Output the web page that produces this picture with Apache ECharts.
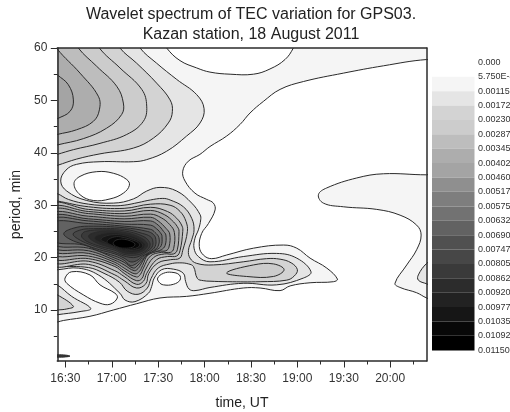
<!DOCTYPE html>
<html>
<head>
<meta charset="utf-8">
<style>html,body{margin:0;padding:0;background:#fff}#c{width:510px;height:412px}</style>
<script src="https://cdn.jsdelivr.net/npm/echarts@6/dist/echarts.min.js"></script>
</head>
<body>
<div id="c"></div>
<script>
// time axis values are minutes after 16:30 UT; second value of each point is period, min
const timeTicks = [0, 30, 60, 90, 120, 150, 180, 210];
const timeLabels = ['16:30','17:00','17:30','18:00','18:30','19:00','19:30','20:00'];
const timeMinor = [15, 45, 75, 105, 135, 165, 195, 225];
const periodTicks = [10, 20, 30, 40, 50, 60];
const periodMinor = [5, 15, 25, 35, 45, 55];
const levelValues = [0,0.000575,0.00115,0.00172,0.0023,0.00287,0.00345,0.00402,0.0046,0.00517,0.00575,0.00632,0.0069,0.00747,0.00805,0.00862,0.0092,0.00977,0.01035,0.01092,0.0115];
const levelLabels = ['0.000','5.750E-4','0.00115','0.00172','0.00230','0.00287','0.00345','0.00402','0.00460','0.00517','0.00575','0.00632','0.00690','0.00747','0.00805','0.00862','0.00920','0.00977','0.01035','0.01092','0.01150'];
const levelColors = ['#ffffff','#f5f5f5','#e5e5e5','#d3d3d3','#cccccc','#bdbdbd','#adadad','#a4a4a4','#8f8f8f','#7e7e7e','#727272','#626262','#505050','#474747','#3a3a3a','#2c2c2c','#222222','#161616','#080808','#000000'];

const L1 = [[240,57.4],[233.6,57.8],[205.6,56.6],[179.7,55.2],[153.9,53.6],[138.8,52.1],[128,49.8],[119.4,47.6],[112.9,45.4],[104.3,43.2],[93.5,41.2],[87,39.7],[79.5,38.4],[75.9,36.5],[77.4,34.6],[83.8,32.3],[91.4,31.1],[95.7,30.4],[96.8,29.1],[92.5,26.5],[88.1,24.6],[86.6,22.1],[89.2,20.5],[94.6,19.8],[104.3,20.5],[121.6,21.8],[141,22.4],[149.6,21.8],[158.2,19.9],[169,18],[175.9,15.9],[173.3,15.4],[158.2,15.2],[145.3,14.6],[138.8,13.7],[125.9,14.2],[115,14.2],[93.5,13.2],[78.4,12.6],[61.2,12.3],[46.1,11.2],[31,10],[15.9,8.8],[-1.3,8],[-5.2,7.7],[-9,7.5],[-9,63],[240,63]];
const holeTop = [[62,62],[65.5,60],[74.1,57.6],[84.9,56.2],[93.5,55.4],[106.5,55],[121.6,55],[132.3,56],[142,57.8],[147.4,60],[150,62]];
const holeOval = [[5.6,34.1],[9.5,35.5],[20.3,36.4],[31,36.1],[39.7,34.9],[41.4,33.8],[37.5,32.3],[28.9,31.2],[18.1,30.9],[9.5,32]];
const holeLobe = [[-0.2,16.1],[4.1,17.3],[15.9,16.7],[22.4,14.8],[32.1,13.2],[33.6,12.3],[28.9,11.1],[22.4,11.3],[11.6,12.9],[0.9,15.1]];
const holeSmall = [[59.7,16.1],[63.4,17],[68.8,17.2],[73.7,16.7],[74.1,15.7],[69.8,14.9],[63.4,14.8],[60.6,15.3]];
const islandL1 = [[240,36],[233.6,35.8],[205.6,36],[188.4,35.2],[169,33.3],[163.6,32],[166.8,30.4],[179.7,29.7],[201.3,29.2],[216.4,28.1],[227.1,26.2],[230,24.3],[227.1,21.5],[220.7,18.6],[213.1,15.1],[216.4,14.3],[227.1,13.3],[233.6,12.3],[240,11.8]];
const islandL2 = [[238,19.5],[233.6,18.9],[228.2,16.7],[228.2,15.7],[233.6,15],[238,14.6]];
const L2 = [[46,62],[48.3,60],[59,57.1],[72,54],[84.9,51.1],[89.7,48.4],[87.1,45.7],[78.4,43.2],[65.5,40.3],[52.6,38.7],[44,38.3],[22.4,38.3],[7.3,37.8],[0.4,36.7],[-3,34.6],[0.9,32.7],[13.8,30.9],[31,30.4],[44,31.2],[52.6,32.7],[61.2,33.4],[72,32.7],[81.7,30.4],[87.1,28.2],[87.5,27.2],[86,25.3],[83.8,23.7],[83.2,21.8],[86,20.2],[93.5,19.2],[115,20.2],[136.6,20.8],[149.6,19.9],[158.8,17.3],[153.9,16.1],[136.6,14.8],[115,15.1],[93.5,14.3],[83.8,13.7],[80,14],[77.8,15.4],[76.3,17],[69.8,17.8],[62.3,17.7],[57.5,16.1],[55.8,14.5],[53.7,13.2],[45,11.6],[38.6,11.9],[35.3,13.2],[21.3,16.7],[8.4,18],[-4.5,17.7],[-9,17.6],[-9,62]];
const wedgeL2 = [[-9,15.1],[-5.2,14.8],[4.1,12.6],[16.4,10.3],[9.5,9.7],[-5.2,9.1],[-9,8.9]];
const wedgeL3 = [[-9,13.2],[-5.2,12.9],[5.2,10.7],[0.9,10.2],[-5.2,10],[-9,9.9]];
const topL3 = [[33,62],[35.3,60],[46.1,57.1],[59,53.3],[67.7,50.1],[69.2,47.9],[66.6,45.7],[56.9,42.8],[44,40.9],[22.4,39.8],[7.3,38.8],[-5.2,37.6],[-9,37.3],[-9,62]];
const topL4 = [[20,62],[22,60],[35.3,56.2],[49.4,52.1],[52.6,48.9],[50.4,46],[39.7,43.5],[22.4,41.8],[5.2,40.6],[-5.2,39.7],[-9,39.4],[-9,62]];
const topL5 = [[6,62],[8.4,60],[20.3,56.5],[33.2,52.7],[37.5,49.5],[36.4,47.3],[26.7,44.7],[11.6,42.7],[-5.2,41.5],[-9,41.2],[-9,62]];
const topL6 = [[-9,62],[-5.2,59.8],[9.5,55.2],[21.3,50.8],[22,48.2],[18.1,46],[7.3,44.4],[-5.2,43.5],[-9,43.2]];
const topL7 = [[-9,56],[-5.2,54.9],[1.9,53],[5.2,50.1],[3,47.9],[-5.2,46.5],[-9,46]];
const bodyL3 = [[-9,32.3],[-5.2,32.2],[2,31.1],[15,30.2],[30,29.9],[38,30],[47,30.5],[55,31],[63,31.3],[67.7,31],[76.3,29.7],[81.7,27.5],[83.2,25.3],[81.7,23.4],[79.6,21.4],[80.6,19.9],[84.9,18.9],[95.7,18.6],[115,19.2],[130,19.8],[138.8,19.7],[146,19],[150,17.7],[148,16.5],[143.1,15.7],[125.9,15.4],[105,15.4],[93.5,15.5],[89.2,15.6],[85.4,16],[82.8,18.3],[79.6,18.8],[74,19],[67.7,18.8],[60,18],[55.4,16],[53,14.2],[47,13],[40,13.6],[35,15.3],[25,17],[15,18.1],[-5,18.3],[-9,18.3]];
const bandL4 = [[104.3,17.1],[121.6,18.6],[134.5,18.8],[141.4,17.7],[134.5,16.4],[117.2,16.4]];
const bodyL4 = [[-9,30.9],[-5.2,30.8],[15,29.7],[38,29.4],[55,30.2],[67.7,30],[74.2,28.8],[78,26.9],[78.9,25],[75.9,21.4],[74,19.9],[68,19.6],[60,19],[54,17],[52,15],[46,14.2],[38,15.6],[32,16.7],[15,18.7],[-9,18.9]];
const bodyL5 = [[-9,30],[15,29.2],[38,28.9],[55,29.6],[66,28.8],[72,27.5],[75.5,26],[75.9,25],[74.2,21.4],[72,20.3],[66,20.2],[59,19.6],[52.6,17],[50.5,15.5],[46,14.9],[38,16.4],[32,17.5],[15,19.3],[-9,19.5]];
const bodyL6 = [[-9,29.4],[15,28.8],[38,28.4],[55,29],[64,28.2],[70,26.8],[73,25.6],[73.5,25],[72.4,21.5],[70,20.7],[64,20.7],[57,20],[51.5,17.5],[49.5,16],[46,15.6],[38,17],[32,18.3],[15,19.8],[-9,20.2]];
const bodyL7 = [[-9,28.9],[15,28.4],[38,27.9],[55,28.3],[62,27.6],[67.5,26.3],[70.5,24.8],[70,21.7],[68,21],[62,21],[55,20.3],[50.5,18],[48.5,16.8],[46,16.3],[38,17.5],[32,18.7],[15,20.3],[-9,20.9]];
const bodyL8 = [[-9,28.3],[15,27.9],[38,27.4],[55,27.7],[60,27],[65,25.6],[67.5,24.5],[67,22],[65,21.3],[60,21.2],[53.5,20.5],[50,18.5],[48,17.4],[45,16.9],[38,18],[32,19.1],[15,20.8],[-9,21.5]];
const bodyL9 = [[-9,27.8],[15,27.4],[38,26.9],[55,27],[60,26.2],[63.5,25],[65,24.3],[64.5,22.3],[62,21.5],[57,21],[52,20.2],[49,18.8],[47,17.9],[44.5,17.5],[38,18.6],[32,19.5],[15,21.3],[-9,22.1]];
const bodyL10 = [[-9,27.3],[15,27],[38,26.4],[55,26.2],[59,25.5],[62,24.5],[62.5,24],[62,22.3],[59,21.5],[54,20.8],[50,19.6],[47,18.6],[44,18],[38,19.1],[32,19.9],[15,21.8],[-9,22.7]];
const bodyL11 = [[-9,26.7],[15,26.5],[38,26],[55,25.4],[58,24.8],[60.5,23.8],[60,22.2],[57,21.3],[52,20.5],[48,19.4],[45,18.7],[42,18.5],[38,19.5],[32,20.3],[22,21.2],[12,22.4],[-9,23.3]];
const bodyL12 = [[-1,24.6],[5,25.6],[15,26],[38,25.7],[53,25],[57,24.4],[58.5,23.5],[58,22.1],[55,21.2],[50,20.3],[46,19.4],[42,19.2],[38,19.9],[32,20.7],[22,21.5],[12,22.5],[3,23.5]];
const bodyL13 = [[5,24.5],[9,25.2],[15,25.5],[38,25.4],[50,24.6],[55,24],[56.5,23.2],[56,22],[52,21],[48,20.3],[44,20],[38,20.3],[32,21],[24,21.7],[15,22.6],[8,23.6]];
const bodyL14 = [[10.5,24.3],[13,25],[25,25.3],[38,25.1],[50,24.1],[54.5,22.9],[54,21.8],[50,20.9],[46,20.5],[38,20.6],[32,21.4],[24,22],[16,22.8],[11.5,23.6]];
const bodyL15 = [[15,24],[17,24.6],[26,25.1],[38,24.8],[48,23.9],[53,22.7],[52,21.7],[48,21],[44,20.8],[38,20.9],[32,21.7],[26,22.2],[19,23]];
const bodyL16 = [[19,23.6],[21,24.3],[30,24.8],[38,24.5],[46,23.8],[51.3,22.7],[51.5,22.3],[50,21.6],[46,21.1],[38,21.2],[33,21.9],[28,22.4],[22,23]];
const bodyL17 = [[23,23.4],[25,24],[32,24.4],[38,24.2],[44,23.6],[48,23.1],[50,22.4],[49,21.8],[44,21.4],[38,21.4],[34,21.8],[30,22.3],[25,23]];
const bodyL18 = [[27,22.9],[28,23.5],[33,24],[38,23.8],[43,23.4],[47,22.9],[48,22.4],[46.5,21.9],[42,21.6],[38,21.6],[33.5,21.9],[29,22.5]];
const bodyL19 = [[31,22.6],[32,23.2],[35,23.5],[38,23.5],[42,23.2],[45,22.6],[43.5,22],[38,21.8],[34,22]];
const speck = [[-9,1.5],[-5.2,1.46],[0,1.4],[3,1.2],[0,1.05],[-5.2,1],[-9,1]];

// painted outermost first; the number is the band index in levelColors
const contours = [
  [L1,1],[holeTop,0],[holeOval,0],[holeLobe,0],[holeSmall,0],[islandL1,1],[islandL2,2],
  [L2,2],[wedgeL2,2],[wedgeL3,3],[topL3,3],[topL4,4],[topL5,5],[topL6,6],[topL7,7],
  [bodyL3,3],[bandL4,4],[bodyL4,4],[bodyL5,5],[bodyL6,6],[bodyL7,7],[bodyL8,8],[bodyL9,9],
  [bodyL10,10],[bodyL11,11],[bodyL12,12],[bodyL13,13],[bodyL14,14],[bodyL15,15],[bodyL16,16],
  [bodyL17,17],[bodyL18,18],[bodyL19,19],[speck,14]
];

const font = 'Liberation Sans';
const ink = '#2b2b2b';
const frame = {show:true, onZero:false, lineStyle:{color:ink, width:1.5}};
const none = {show:false};
const chart = echarts.init(document.getElementById('c'), null, {renderer:'canvas'});
const X0 = -5.2, X1 = 233.6, Y0 = 0.27, Y1 = 60;

function minorAxis(min, max, pos, values, gridIndex){
  return {type:'value', gridIndex:gridIndex, position:pos, min:min, max:max, z:10, silent:true,
    axisLine:{show:false, onZero:false}, splitLine:none, axisLabel:none,
    axisTick:{show:true, length:3.5, customValues:values, lineStyle:{color:ink, width:1}}};
}
function frameAxis(min, max, pos){
  return {type:'value', gridIndex:0, position:pos, min:min, max:max, z:10, silent:true,
    axisLine:frame, axisTick:none, splitLine:none, axisLabel:none};
}

chart.setOption({
  animation:false,
  backgroundColor:'#fff',
  title:{
    text:'Wavelet spectrum of TEC variation for GPS03.\nKazan station, 18 August 2011',
    left:246, top:0, textAlign:'center',
    textStyle:{fontFamily:font, fontSize:16, fontWeight:'normal', color:'#222', lineHeight:19.5}
  },
  grid:[
    {left:57.3, top:48, width:369.4, height:313, outerBoundsMode:'none'},
    {left:432, top:62.4, width:42.5, height:288, outerBoundsMode:'none'}
  ],
  xAxis:[
    {type:'value', gridIndex:0, position:'bottom', min:X0, max:X1, z:10,
      name:'time, UT', nameLocation:'middle', nameGap:35,
      nameTextStyle:{fontFamily:font, fontSize:14, color:'#222'},
      axisLine:frame, splitLine:none,
      axisTick:{show:true, length:6.5, customValues:timeTicks, lineStyle:{color:ink, width:1}},
      axisLabel:{show:true, customValues:timeTicks, margin:12, fontFamily:font, fontSize:12, color:'#333',
        formatter:function(v){return timeLabels[timeTicks.indexOf(v)];}}},
    minorAxis(X0, X1, 'bottom', timeMinor, 0),
    frameAxis(X0, X1, 'top'),
    {type:'category', gridIndex:1, data:['scale'], axisLine:none, axisTick:none, axisLabel:none, splitLine:none}
  ],
  yAxis:[
    {type:'value', gridIndex:0, position:'left', min:Y0, max:Y1, z:10,
      name:'period, min', nameLocation:'middle', nameGap:32,
      nameTextStyle:{fontFamily:font, fontSize:14, color:'#222'},
      axisLine:frame, splitLine:none,
      axisTick:{show:true, length:6.5, customValues:periodTicks, lineStyle:{color:ink, width:1}},
      axisLabel:{show:true, customValues:periodTicks, margin:10, fontFamily:font, fontSize:12, color:'#333'}},
    minorAxis(Y0, Y1, 'left', periodMinor, 0),
    frameAxis(Y0, Y1, 'right'),
    {type:'value', gridIndex:1, position:'right', inverse:true, min:0, max:0.0115,
      axisLine:none, axisTick:none, splitLine:none,
      axisLabel:{show:true, customValues:levelValues, margin:3.5, fontFamily:font, fontSize:9, color:'#333',
        formatter:function(v){return levelLabels[levelValues.indexOf(v)];}}}
  ],
  series:[
    {type:'custom', coordinateSystem:'cartesian2d', xAxisIndex:0, yAxisIndex:0, clip:true, silent:true,
      data:contours.map(function(c,i){return [i];}),
      renderItem:function(params, api){
        const c = contours[api.value(0)];
        return {type:'polygon',
          shape:{points:c[0].map(function(p){return api.coord(p);}), smooth:0.4},
          style:{fill:levelColors[c[1]], stroke:'#2a2a2a', lineWidth:1}};
      }}
  ].concat(levelColors.map(function(col,i){
    return {type:'bar', xAxisIndex:3, yAxisIndex:3, stack:'scale', barWidth:'100%', silent:true,
      itemStyle:{color:col}, data:[levelValues[i+1]-levelValues[i]]};
  }))
});
</script>
</body>
</html>
